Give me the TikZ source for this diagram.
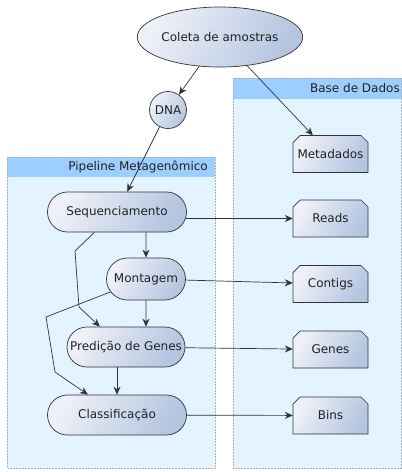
\documentclass[tikz,border=0pt]{standalone}
\usepackage{fontspec}
\setmainfont{DejaVu Sans}
\usetikzlibrary{shapes.misc,shapes.geometric,arrows.meta}
\definecolor{gl}{HTML}{EEF1F8}
\definecolor{gd}{HTML}{B4C5E0}
\definecolor{cbg}{HTML}{E3F3FF}
\definecolor{chd}{HTML}{9CCFFF}
\definecolor{ln}{HTML}{333333}
\definecolor{cbd}{HTML}{A8B0B8}
\definecolor{tx}{HTML}{222222}
\newcommand\dbnode[4]{%
  \path[grad, shift={(#2,#3)}] (-37.5,18.5) -- (-37.5,-11.5) -- (-30.5,-18.5) -- (30.5,-18.5) -- (37.5,-11.5) -- (37.5,18.5) -- cycle;
  \node[dbtext] (#1) at (#2,#3) {#4};}
\begin{document}
\begin{tikzpicture}[x=1pt,y=-1pt, font=\fontsize{12}{14}\selectfont, text=tx,
 grad/.style={draw=ln, line width=0.7pt, left color=gl, right color=gd, shading angle=60},
 proc/.style={grad, rounded rectangle, minimum height=40pt, inner sep=0pt},
 dbtext/.style={rectangle, minimum width=75pt, minimum height=37pt, inner sep=0pt},
 arr/.style={draw=ln, line width=0.7pt, -{Stealth[length=8pt,width=7pt]}},
 contbg/.style={fill=cbg},
 contbd/.style={draw=cbd, densely dotted, line width=0.5pt},
 hdr/.style={fill=chd},
]
\useasboundingbox (0,0) rectangle (402,472);
% containers
\path[contbg] (7,157) rectangle (215,468);
\path[hdr] (7,157) rectangle (215,177);
\path[contbd] (7,157) rectangle (215,468);
\path[contbg] (233,78) rectangle (401.5,468);
\path[hdr] (233,78) rectangle (401.5,99);
\path[contbd] (233,78) rectangle (401.5,468);
\node[anchor=east, inner sep=0pt] (hp) at (208,167) {Pipeline Metagenômico};
\node[anchor=east, inner sep=0pt] (hb) at (400,88.5) {Base de Dados};
% nodes
\node[grad, ellipse, minimum width=120pt, minimum height=60pt, inner sep=0pt] (coleta) at (220,37) {Coleta de amostras};
\node[grad, circle, minimum size=37pt, inner sep=0pt] (dna) at (168,110) {DNA};
\node[proc, minimum width=139pt] (seq) at (117,212) {Sequenciamento};
\node[proc, minimum width=79pt, minimum height=42pt] (mont) at (146,279) {Montagem};
\node[proc, minimum width=118pt] (pred) at (126,347) {Predição de Genes};
\node[proc, minimum width=139pt] (class) at (117,415) {Classificação};
\dbnode{meta}{330.5}{154}{Metadados}
\dbnode{reads}{330.5}{218.5}{Reads}
\dbnode{contigs}{330.5}{284}{Contigs}
\dbnode{genes}{330.5}{349.5}{Genes}
\dbnode{bins}{330.5}{415.5}{Bins}
% connectors
\draw[arr] (coleta) -- (dna);
\draw[arr] (coleta) -- (meta);
\draw[arr] (dna) -- (seq);
\draw[arr] ([xshift=-1pt]seq.east |- reads.west) -- (reads.west);
\draw[arr] (mont.north |- seq.south) -- (mont);
\draw[arr] (seq.222) -- (75,251) -- (79,307) -- (pred.142);
\draw[arr] (mont) -- (mont |- pred.north);
\draw[arr] (mont.200) -- (46,317) -- (55,372) -- (class.145);
\draw[arr] (class |- pred.south) -- (class.north);
\draw[arr] (mont) -- (contigs);
\draw[arr] (pred) -- (genes);
\draw[arr] (class) -- (bins);
\end{tikzpicture}
\end{document}
